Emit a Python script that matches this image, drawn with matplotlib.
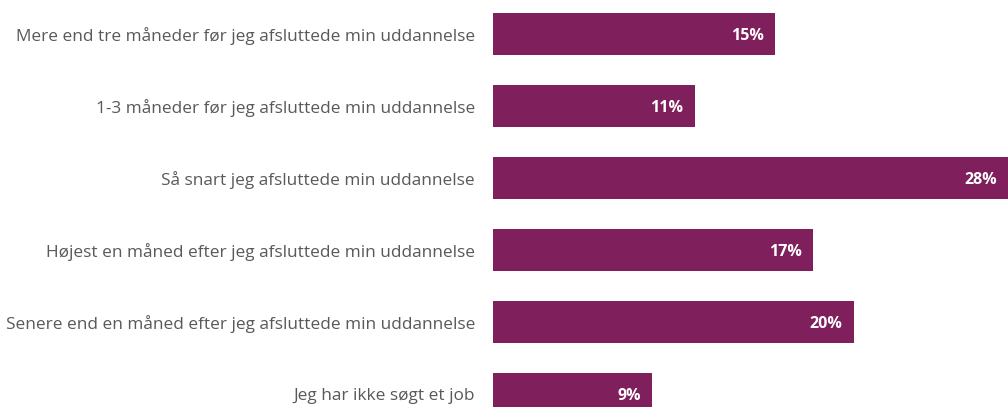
import matplotlib.pyplot as plt

# kategorier og værdier
kategorier = [
    "Mere end tre måneder før jeg afsluttede min uddannelse",
    "1-3 måneder før jeg afsluttede min uddannelse",
    "Så snart jeg afsluttede min uddannelse",
    "Højest en måned efter jeg afsluttede min uddannelse",
    "Senere end en måned efter jeg afsluttede min uddannelse",
    "Jeg har ikke søgt et job",
]
andele = [15.4, 11.0, 28.1, 17.45, 19.7, 8.7]

farve = "#7f1f5b"
plt.rcParams['font.family'] = ['Open Sans', 'DejaVu Sans']

fig = plt.figure(figsize=(10.08, 4.07), dpi=100)
ax = fig.add_axes([493 / 1008, 0, 1 - 493 / 1008, 1])

pos = list(range(len(kategorier)))
bars = ax.barh(pos, andele, height=0.58, color=farve)

for b, v in zip(bars, andele):
    ax.text(b.get_width() - 0.62, b.get_y() + b.get_height() / 2 + 0.03, f"{v:.0f}%",
            ha='right', va='center', color='white', fontsize=11.5, fontweight='bold')

ax.set_yticks(pos)
ax.set_yticklabels(kategorier, fontsize=12.4, color='#595959')
ax.tick_params(axis='y', length=0, pad=13)
ax.set_xticks([])
ax.set_xlim(0, 28.1)
ax.set_ylim(5 + 13 / 72, -34 / 72)
for s in ax.spines.values():
    s.set_visible(False)

fig.savefig('out.png', dpi=100)
